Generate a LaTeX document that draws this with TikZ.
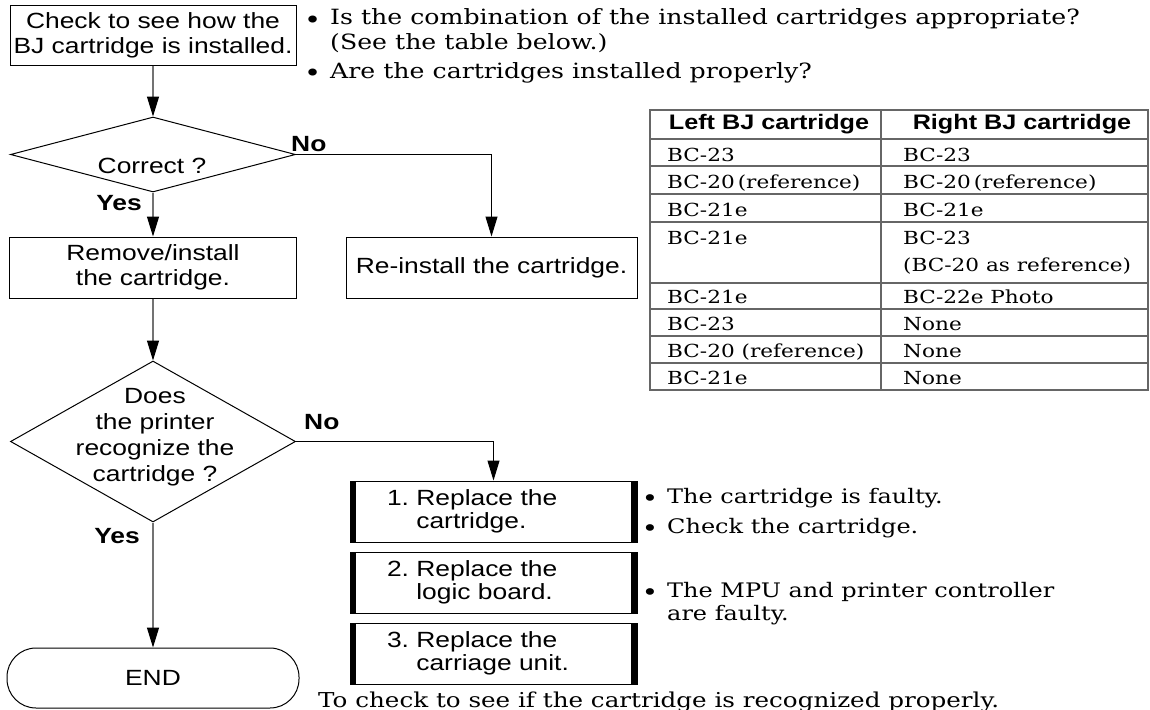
\documentclass[tikz,border=0pt]{standalone}
\usepackage{fontspec}
\setsansfont{Liberation Sans}[FakeStretch=1.2]
\newfontfamily\bodyserif{DejaVu Serif}[FakeStretch=1.2]
\usetikzlibrary{arrows.meta, positioning, shapes.geometric}
\newcommand{\notebullet}{\llap{\raisebox{-3.5pt}{\scalebox{1.15}{•}}\hspace{9pt}}}

\begin{document}
\begin{tikzpicture}[x=1pt, y=-1pt,
  flowbox/.style={draw, line width=1pt, inner sep=0pt, align=center,
                  font=\sffamily\fontsize{22}{25}\selectfont},
  decision/.style={draw, diamond, line width=1pt, inner sep=0pt},
  flowtext/.style={inner sep=0pt, align=center, font=\sffamily\fontsize{22}{26}\selectfont},
  answer/.style={inner sep=0pt, font=\sffamily\bfseries\fontsize{22}{25}\selectfont},
  graylink/.style={draw=black!55, line width=1.3pt, -{Triangle[length=20pt,width=12pt,color=black]}},
  blacklink/.style={draw=black, line width=1pt, -{Triangle[length=20pt,width=12pt,color=black]}},
  stepcard/.style={draw, line width=1pt, minimum width=287pt, minimum height=61pt,
                   text width=213pt, inner xsep=37pt, inner ysep=0pt, align=left,
                   font=\sffamily\fontsize{22}{23}\selectfont,
                   path picture={
                     \fill (path picture bounding box.north west) rectangle ([xshift=6pt]path picture bounding box.south west);
                     \fill (path picture bounding box.north east) rectangle ([xshift=-6pt]path picture bounding box.south east);
                   }},
  note/.style={inner sep=0pt, anchor=base west, align=left, font=\bodyserif\fontsize{20}{25}\selectfont},
  tablerule/.style={draw=black!60, line width=1.2pt},
  headcell/.style={inner sep=0pt, font=\sffamily\bfseries\fontsize{21}{25}\selectfont},
  cell/.style={inner sep=0pt, anchor=base west, align=left, font=\bodyserif\fontsize{18}{27}\selectfont},
]
\useasboundingbox (0,0) rectangle (1150,709);

% --- Flow chart (left column) ---
\node[flowbox, minimum width=286pt, minimum height=59pt] (check-box) at (153,35.5)
     {Check to see how the\\BJ cartridge is installed.};
\node[decision, minimum width=285pt, minimum height=75pt] (correct-dia) at (153,154.5) {};
\node[flowtext] (correct-txt) at (152,166) {Correct ?};
\node[flowbox, minimum width=287pt, minimum height=61pt] (remove-box) at (153,267.5)
     {Remove/install\\the cartridge.};
\node[flowbox, minimum width=291pt, minimum height=61pt] (reinstall-box) at (491.5,267.5)
     {Re-install the cartridge.};
\node[decision, minimum width=285pt, minimum height=161pt] (recognize-dia) at (153,441.5) {};
\node[flowtext] (recognize-txt) at (155,437) {Does\\the printer\\recognize the\\cartridge ?};
\node[draw, line width=1pt, rounded corners=29pt, minimum width=292pt, minimum height=60pt,
      font=\sffamily\fontsize{22}{25}\selectfont] (end-box) at (153,678) {END};

% Connectors
\draw[graylink] (check-box.south) -- (correct-dia.north);
\draw[graylink] (correct-dia.south) -- (remove-box.north);
\draw[graylink] (remove-box.south) -- (recognize-dia.north);
\draw[graylink] (recognize-dia.south) -- (end-box.north);
\draw[blacklink] (correct-dia.east) -| (reinstall-box.north);

% Answers
\node[answer, anchor=south west] (no-correct) at ([xshift=-5pt, yshift=3pt]correct-dia.east) {No};
\node[answer, anchor=north east] (yes-correct) at ([xshift=-11pt, yshift=-3pt]correct-dia.south) {Yes};
\node[answer, anchor=south west] (no-recognize) at ([xshift=8pt, yshift=12pt]recognize-dia.east) {No};
\node[answer, anchor=north east] (yes-recognize) at ([xshift=-13pt, yshift=-6pt]recognize-dia.south) {Yes};

% --- Replacement steps ---
\node[stepcard] (card-1) at (493.5,511.5) {1.\ Replace the\\\hphantom{1.\ }cartridge.};
\node[stepcard] (card-2) at (493.5,582.5) {2.\ Replace the\\\hphantom{2.\ }logic board.};
\node[stepcard] (card-3) at (493.5,653.5) {3.\ Replace the\\\hphantom{3.\ }carriage unit.};
\draw[blacklink] (recognize-dia.east) -| (card-1.north);

% --- Notes (base = last line) ---
\node[note, font=\bodyserif\fontsize{21}{25}\selectfont] (combo-note) at (330,50)
     {\notebullet Is the combination of the installed cartridges appropriate?\\(See the table below.)};
\node[note, font=\bodyserif\fontsize{21}{25}\selectfont] (proper-note) at (330,78)
     {\notebullet Are the cartridges installed properly?};
\node[note] (faulty-note) at (667,503) {\notebullet The cartridge is faulty.};
\node[note] (checkit-note) at (667,533) {\notebullet Check the cartridge.};
\node[note, font=\bodyserif\fontsize{20}{23}\selectfont] (mpu-note) at (667,620)
     {\notebullet The MPU and printer controller\\are faulty.};
\node[note, font=\bodyserif\fontsize{20.5}{25}\selectfont] (recog-note) at (318,707)
     {To check to see if the cartridge is recognized properly.};

% --- Cartridge table ---
\draw[tablerule] (650,110) rectangle (1148,390);
\draw[tablerule] (881,110) -- (881,390);
\foreach \y in {139,166,194,222,283,309,336,363}
  \draw[tablerule] (650,\y) -- (1148,\y);
\node[headcell] (left-head) at (769,124.5) {Left BJ cartridge};
\node[headcell] (right-head) at (1022,124.5) {Right BJ cartridge};
\node[cell] (l1) at (667,161) {BC-23};
\node[cell] (r1) at (903,161) {BC-23};
\node[cell] (l2) at (667,188) {BC-20\,(reference)};
\node[cell] (r2) at (903,188) {BC-20\,(reference)};
\node[cell] (l3) at (667,216) {BC-21e};
\node[cell] (r3) at (903,216) {BC-21e};
\node[cell] (l4) at (667,244) {BC-21e};
\node[cell] (r4) at (903,271) {BC-23\\(BC-20 as reference)};
\node[cell] (l5) at (667,303) {BC-21e};
\node[cell] (r5) at (903,303) {BC-22e Photo};
\node[cell] (l6) at (667,330) {BC-23};
\node[cell] (r6) at (903,330) {None};
\node[cell] (l7) at (667,357) {BC-20 (reference)};
\node[cell] (r7) at (903,357) {None};
\node[cell] (l8) at (667,384) {BC-21e};
\node[cell] (r8) at (903,384) {None};

\end{tikzpicture}
\end{document}
